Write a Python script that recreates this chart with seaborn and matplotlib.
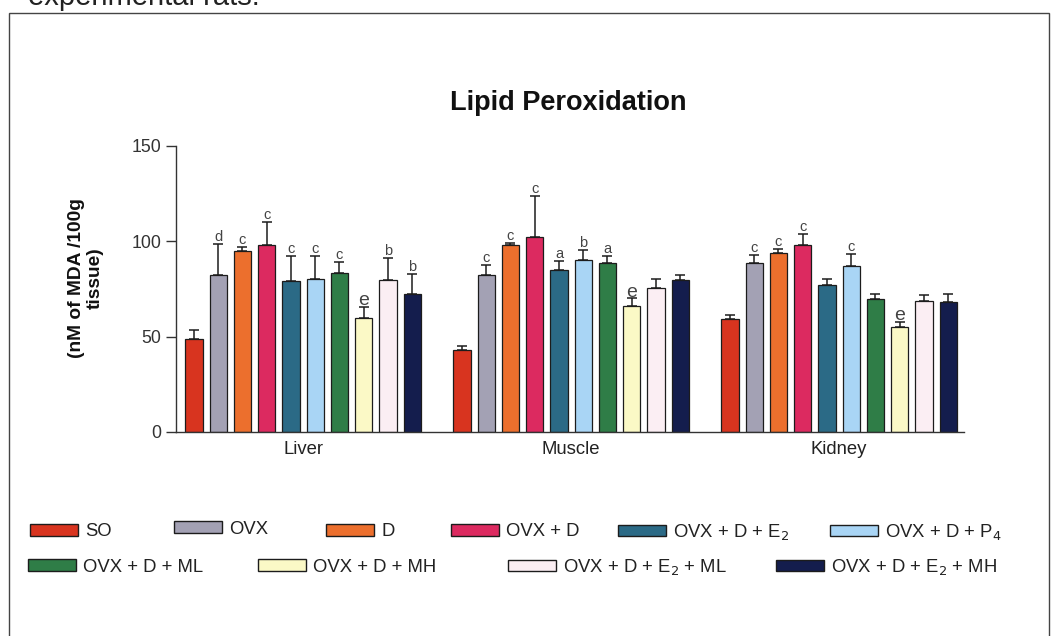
import numpy as np
import pandas as pd
import matplotlib
matplotlib.use("Agg")
import matplotlib.pyplot as plt
from matplotlib.patches import Patch, Rectangle
import seaborn as sns

# ---------------- data ----------------
tissues = ["Liver", "Muscle", "Kidney"]
groups = ["SO", "OVX", "D", "OVX + D", "OVX + D + E$_2$", "OVX + D + P$_4$",
          "OVX + D + ML", "OVX + D + MH", "OVX + D + E$_2$ + ML", "OVX + D + E$_2$ + MH"]

liver_mean = [48.9, 82.0, 95.0, 97.9, 79.2, 80.0, 83.0, 59.6, 79.5, 72.5]
liver_sem = [4.6, 16.4, 1.8, 12.1, 12.8, 12.3, 6.0, 5.8, 11.5, 10.3]
muscle_mean = [43.0, 82.2, 97.9, 101.9, 85.0, 89.8, 88.4, 66.2, 75.2, 79.7]
muscle_sem = [2.1, 5.2, 1.0, 21.5, 4.3, 5.6, 3.9, 3.7, 5.0, 2.5]
kidney_mean = [59.3, 88.6, 93.7, 98.0, 77.1, 87.0, 69.7, 55.2, 68.5, 68.0]
kidney_sem = [1.7, 3.9, 2.1, 5.7, 3.1, 6.3, 2.3, 2.6, 3.0, 4.5]

liver_letters = ["", "d", "c", "c", "c", "c", "c", "e", "b", "b"]
muscle_letters = ["", "c", "c", "c", "a", "b", "a", "e", "", ""]
kidney_letters = ["", "c", "c", "c", "", "c", "", "e", "", ""]

y_ticks = [0, 50, 100, 150]

# ---------------- style ----------------
colors = ["#d8341f", "#a3a1b4", "#ec6f2d", "#dc2a60", "#2b6a86",
          "#a9d5f5", "#2f7d47", "#fbf9c6", "#fbeef3", "#141d4d"]

sns.set_style("white")
plt.rcParams["font.family"] = ["Liberation Sans", "DejaVu Sans"]

W, H = 1051, 636
fig = plt.figure(figsize=(W / 100, H / 100), dpi=100)
ax = fig.add_axes([176 / W, 1 - 432 / H, (964 - 176) / W, (432 - 145.5) / H])

means = [liver_mean, muscle_mean, kidney_mean]
sems = [liver_sem, muscle_sem, kidney_sem]
letters = [liver_letters, muscle_letters, kidney_letters]

rows = []
for t, m, s, l in zip(tissues, means, sems, letters):
    for g, mv, sv, lv in zip(groups, m, s, l):
        rows.append({"tissue": t, "group": g, "value": mv, "sem": sv, "letter": lv})
df = pd.DataFrame(rows)

sns.barplot(data=df, x="tissue", y="value", hue="group", order=tissues,
            hue_order=groups, palette=colors, width=0.905, gap=0.29,
            errorbar=None, edgecolor="#1c1c1c", linewidth=0.9,
            legend=False, ax=ax, saturation=1)

bar_containers = list(ax.containers)

# error bars (upper only) and letters from the bar geometry
for gi, cont in enumerate(bar_containers):
    g = groups[gi]
    sub = df[df["group"] == g].set_index("tissue").loc[tissues]
    xs = [b.get_x() + b.get_width() / 2 for b in cont]
    hs = [b.get_height() for b in cont]
    errs = sub["sem"].values
    ax.errorbar(xs, hs, yerr=[np.zeros(len(errs)), errs], fmt="none",
                ecolor="#1c1c1c", elinewidth=1.1, capsize=3.6, capthick=1.1,
                zorder=1)
    for x, h, e, lt in zip(xs, hs, errs, sub["letter"].values):
        if lt:
            big = lt == "e"
            ax.annotate(lt, (x, h + e), xytext=(0, 5 if not big else 4.5),
                        textcoords="offset points", ha="center", va="center",
                        fontsize=14 if big else 10.5, color="#444444")

ax.set_xlim(-0.474, 2.466)
ax.set_ylim(0, 150)
ax.set_yticks(y_ticks)
ax.set_yticklabels([str(v) for v in y_ticks])
ax.set_xlabel("")
ax.set_ylabel("")
for side in ["top", "right"]:
    ax.spines[side].set_visible(False)
for side in ["left", "bottom"]:
    ax.spines[side].set_color("#333333")
    ax.spines[side].set_linewidth(1.0)
ax.tick_params(axis="y", length=7, width=1.0, color="#333333", pad=3.5,
               labelsize=12.8, labelcolor="#333333", left=True)
ax.tick_params(axis="x", length=0, pad=6.5, labelsize=13.3, labelcolor="#222222")

# title and y label
fig.text(568 / W, 1 - 103 / H, "Lipid Peroxidation", ha="center", va="center",
         fontsize=19.5, fontweight="bold", color="#111111")
fig.text(86 / W, 1 - 278 / H, "(nM of MDA /100g\ntissue)", rotation=90,
         ha="center", va="center", multialignment="center",
         fontsize=13.8, fontweight="bold", color="#111111", linespacing=1.15)

# caption fragment at top
fig.text(28 / W, 1 - 5 / H, "experimental rats.", ha="left", va="baseline",
         fontsize=21, color="#222222")

# border box
fig.patches.append(Rectangle((9 / W, -0.02), (1049 - 9) / W, 1 - 13 / H + 0.02,
                             transform=fig.transFigure, fill=False,
                             edgecolor="#444444", linewidth=1.0))

# legend: one entry per legend, placed like the original two rows
legend_pos = [(30, 532), (174, 529), (326, 532), (451, 532), (618, 532), (830, 532),
              (28, 567), (258, 567), (508, 567), (776, 567)]
for g, c, (px, py) in zip(groups, colors, legend_pos):
    h = Patch(facecolor=c, edgecolor="#1c1c1c", linewidth=1.0)
    fig.legend([h], [g], loc="center left", bbox_to_anchor=(px / W, 1 - py / H),
               frameon=False, borderpad=0, borderaxespad=0,
               handlelength=2.6, handleheight=0.6, handletextpad=0.38,
               fontsize=13.3, labelcolor="#222222")

fig.savefig("out.png", dpi=100)
